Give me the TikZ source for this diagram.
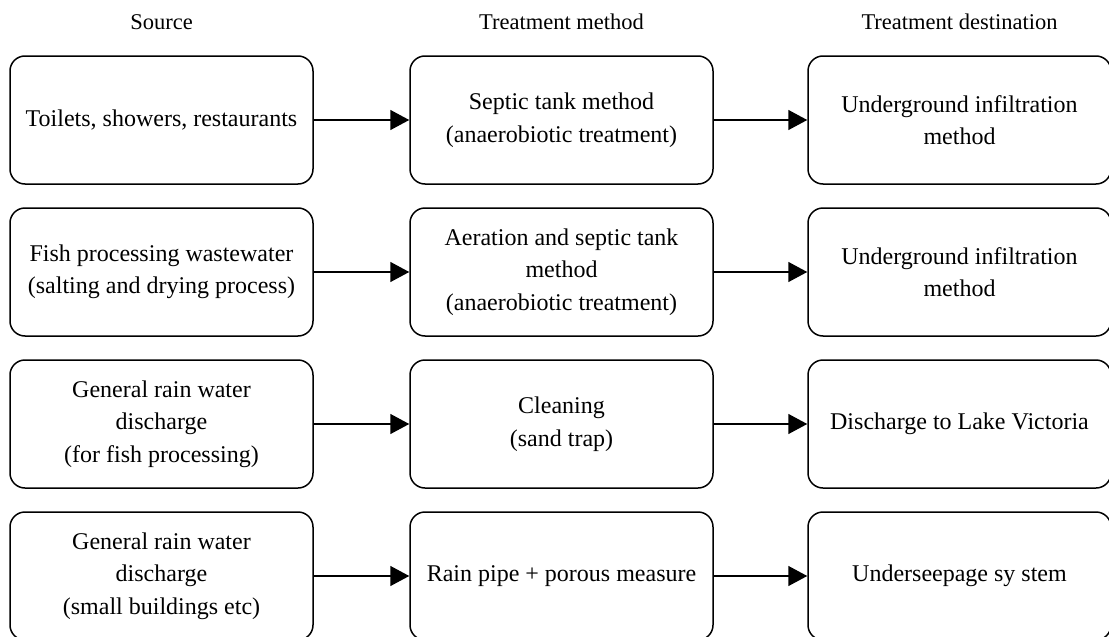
\documentclass[tikz,border=0pt]{standalone}
\usepackage{fontspec}
\setmainfont{Liberation Serif}
\usetikzlibrary{arrows.meta}
\begin{document}
\begin{tikzpicture}[x=1pt,y=-1pt,
  box/.style={draw,line width=1.5pt,rounded corners=15pt,minimum width=303pt,
    minimum height=128pt,align=center,inner sep=2pt,
    font=\fontsize{24}{32.5}\selectfont},
  head/.style={font=\fontsize{22.5}{26}\selectfont},
  flow/.style={line width=1.5pt,-{Triangle[length=19pt,width=20pt]}}]
\useasboundingbox (0,0) rectangle (1109,637);
\clip (0,0) rectangle (1109,637);
% column headers
\node[head] (h1) at (161.5,22) {Source};
\node[head] (h2) at (561.5,22) {Treatment method};
\node[head] (h3) at (959.5,22) {Treatment destination};
% row 1
\node[box] (s1) at (161.5,120) {Toilets, showers, restaurants};
\node[box] (m1) at (561.5,120) {Septic tank method\\(anaerobiotic treatment)};
\node[box] (d1) at (959.5,120) {Underground infiltration\\method};
% row 2
\node[box] (s2) at (161.5,272) {Fish processing wastewater\\(salting and drying process)};
\node[box] (m2) at (561.5,272) {Aeration and septic tank\\method\\(anaerobiotic treatment)};
\node[box] (d2) at (959.5,272) {Underground infiltration\\method};
% row 3
\node[box] (s3) at (161.5,424) {General rain water\\discharge\\(for fish processing)};
\node[box] (m3) at (561.5,424) {Cleaning\\(sand trap)};
\node[box] (d3) at (959.5,424) {Discharge to Lake Victoria};
% row 4
\node[box] (s4) at (161.5,576) {General rain water\\discharge\\(small buildings etc)};
\node[box] (m4) at (561.5,576) {Rain pipe + porous measure};
\node[box] (d4) at (959.5,576) {Underseepage sy stem};
% flows
\foreach \i in {1,2,3,4}{
  \draw[flow] (s\i.east) -- (m\i.west);
  \draw[flow] (m\i.east) -- (d\i.west);
}
\end{tikzpicture}
\end{document}
